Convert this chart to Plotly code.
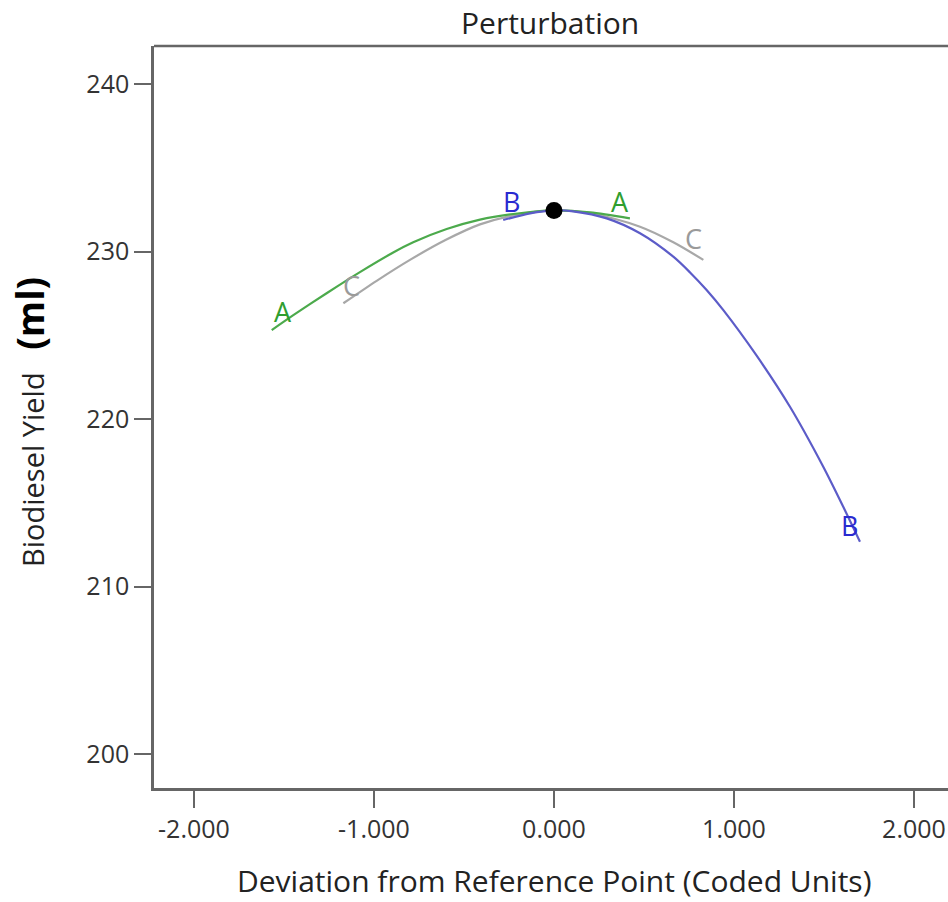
import plotly.graph_objects as go

# Perturbation curves (coded deviation, yield in ml)
a_x = [-1.568, -1.448, -1.263, -1.078, -0.893, -0.782, -0.596, -0.411, -0.226, 0.0, 0.2, 0.422]
a_y = [225.31, 226.20, 227.51, 228.77, 229.94, 230.55, 231.34, 231.90, 232.24, 232.46, 232.34, 231.98]

b_x = [-0.282, -0.133, 0.0, 0.107, 0.293, 0.478, 0.663, 0.756, 0.848, 0.941, 1.126, 1.311, 1.496, 1.607, 1.70]
b_y = [231.88, 232.28, 232.46, 232.40, 231.98, 231.09, 229.69, 228.75, 227.70, 226.50, 223.78, 220.73, 217.15, 214.76, 212.67]

c_x = [-1.17, -0.985, -0.8, -0.6, -0.411, -0.226, 0.0, 0.2, 0.478, 0.663, 0.83]
c_y = [226.91, 228.25, 229.50, 230.70, 231.62, 232.16, 232.46, 232.30, 231.48, 230.55, 229.50]

ref_x = [0.0]
ref_y = [232.45]

label_text = ["A", "A", "B", "B", "C", "C"]
label_x = [-1.506, 0.367, -0.235, 1.644, -1.124, 0.774]
label_y = [226.39, 232.97, 232.97, 213.67, 227.95, 230.79]
label_col = ["#2f9e2f", "#2f9e2f", "#2a2ad0", "#2a2ad0", "#9a9a9a", "#9a9a9a"]

x_ticks = [-2, -1, 0, 1, 2]
x_ticktext = ["-2.000", "-1.000", "0.000", "1.000", "2.000"]
y_ticks = [200, 210, 220, 230, 240]

FONT = "Open Sans"
AXIS_COL = "#666666"

fig = go.Figure()
fig.add_trace(go.Scatter(x=c_x, y=c_y, mode="lines", line=dict(color="#a8a8a8", width=2.2, shape="spline", smoothing=0.8),
                         showlegend=False, hoverinfo="skip"))
fig.add_trace(go.Scatter(x=a_x, y=a_y, mode="lines", line=dict(color="#4caa4c", width=2.2, shape="spline", smoothing=0.8),
                         showlegend=False, hoverinfo="skip"))
fig.add_trace(go.Scatter(x=b_x, y=b_y, mode="lines", line=dict(color="#5c5cc8", width=2.2, shape="spline", smoothing=0.8),
                         showlegend=False, hoverinfo="skip"))
fig.add_trace(go.Scatter(x=ref_x, y=ref_y, mode="markers", marker=dict(color="black", size=17), showlegend=False, hoverinfo="skip"))

for t, x, y, c in zip(label_text, label_x, label_y, label_col):
    fig.add_annotation(x=x, y=y, text=t, showarrow=False, font=dict(family=FONT, size=27, color=c),
                       xanchor="center", yanchor="middle")

fig.add_annotation(xref="paper", yref="paper", x=(550 - 154) / 794, y=1, yshift=24, text="Perturbation", showarrow=False,
                   font=dict(family=FONT, size=30, color="#222"), xanchor="center", yanchor="middle")
fig.add_annotation(xref="paper", yref="paper", x=(554 - 154) / 794, y=0, yshift=-92,
                   text="Deviation from Reference Point (Coded Units)",
                   showarrow=False, font=dict(family=FONT, size=30, color="#222"), xanchor="center", yanchor="middle")
fig.add_annotation(xref="paper", yref="paper", x=0, xshift=-124, y=(788 - 422) / 742,
                   text="Biodiesel Yield&nbsp;&nbsp;&nbsp;<b><span style='font-size:37px;color:#000'>(ml)</span></b>",
                   textangle=-90, showarrow=False, font=dict(family=FONT, size=29, color="#222"),
                   xanchor="center", yanchor="middle")

fig.add_shape(type="line", xref="paper", yref="paper", x0=0, x1=1, y0=1, y1=1, line=dict(color=AXIS_COL, width=2.5))

fig.update_xaxes(range=[-2.222, 2.189], tickvals=x_ticks, ticktext=x_ticktext, showgrid=False, zeroline=False,
                 showline=True, linecolor=AXIS_COL, linewidth=2.5, ticks="outside", ticklen=17, tickwidth=2,
                 tickcolor=AXIS_COL, tickfont=dict(family=FONT, size=25, color="#333"))
fig.update_yaxes(range=[197.97, 242.27], tickvals=y_ticks, showgrid=False, zeroline=False,
                 showline=True, linecolor=AXIS_COL, linewidth=2.5, ticks="outside", ticklen=17, tickwidth=2,
                 tickcolor=AXIS_COL, tickfont=dict(family=FONT, size=25, color="#333"))

fig.update_layout(width=948, height=902, margin=dict(l=154, r=0, t=46, b=114),
                  plot_bgcolor="white", paper_bgcolor="white", showlegend=False)

fig.write_html("out.html")
